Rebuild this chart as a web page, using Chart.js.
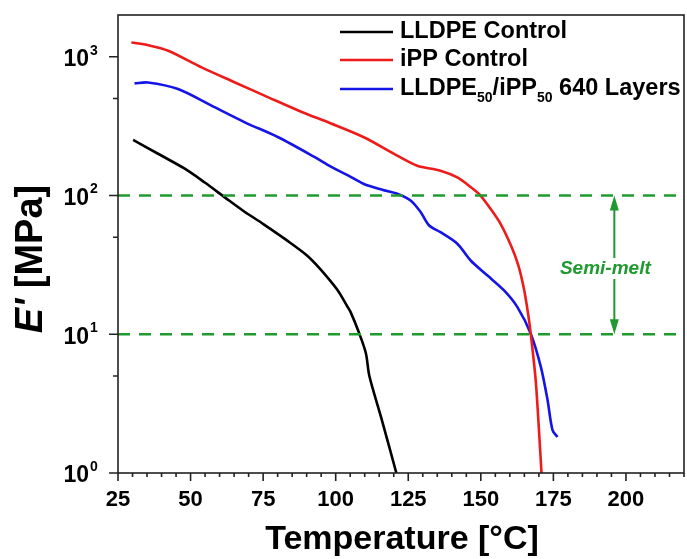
<!DOCTYPE html>
<html>
<head>
<meta charset="utf-8">
<script src="https://cdn.jsdelivr.net/npm/chart.js@4.4.0/dist/chart.umd.min.js"></script>
<style>
  html, body { margin: 0; padding: 0; background: #fff; }
  #wrap { width: 687px; height: 559px; }
</style>
</head>
<body>
<div id="wrap"><canvas id="chart" width="687" height="559"></canvas></div>
<script>
// storage modulus E' [MPa] vs temperature [°C]
var lldpeTemp = [30.2, 38.8, 48.0, 54.9, 61.8, 68.0, 75.2, 83.2, 90.1, 94.7, 100.5, 103.9, 105.1, 108.0, 110.4, 111.6, 115.7, 120.9];
var lldpeMod  = [252, 200, 156, 124, 97, 78, 62, 47.5, 37, 29.5, 21, 16, 14.5, 10.3, 7.3, 5.0, 2.5, 1.0];

var ippTemp = [29.6, 35.5, 42.3, 53.8, 65.3, 76.8, 88.3, 98.2, 109.7, 121.2, 128.1, 136.1, 141.9, 146.5, 149.9, 153.0, 156.9, 160.5, 163.0, 164.9, 166.3, 167.2, 168.9, 170.1, 170.9];
var ippMod  = [1268, 1210, 1105, 838, 653, 510, 400, 332, 263, 194, 164, 151, 135, 115, 100, 82, 62, 43, 31, 21, 14, 10.1, 4.67, 1.93, 1.0];

var blendTemp = [30.7, 35.3, 45.7, 57.2, 68.7, 80.2, 92.8, 98.2, 104.4, 109.7, 116.0, 121.2, 125.8, 129.3, 132.2, 136.1, 141.9, 146.5, 152.2, 158.0, 162.6, 167.2, 170.7, 173.0, 174.7, 176.4];
var blendMod  = [643, 653, 585, 444, 337, 263, 189, 162, 139, 121, 110, 103, 92, 75.8, 60.8, 54.4, 44.9, 34, 26.6, 20.7, 15.7, 10.1, 5.8, 3.35, 2.04, 1.82];

// semi-melt window boundaries
var semiMeltBounds = [100, 10];
var refLineTemp = [25, 220];
var arrowTemp = 196;

var xMajorTicks = [25, 50, 75, 100, 125, 150, 175, 200];
var xMinorStep = 5;
var yMajorTicks = [1, 10, 100, 1000];
var yMajorExp = ["0", "1", "2", "3"];
var yMinorTicks = [5, 50, 500];

var FONT = '"Liberation Sans", Arial, Helvetica, sans-serif';
var GREEN = "#1f9a2e";

function pts(xs, ys) {
  return xs.map(function (x, i) { return { x: x, y: ys[i] }; });
}

function curve(label, xs, ys, color) {
  return {
    label: label,
    data: pts(xs, ys),
    borderColor: color,
    borderWidth: 2.6,
    pointRadius: 0,
    fill: false,
    tension: 0.3,
  };
}

function refLine(v) {
  return {
    label: "ref" + v,
    data: pts(refLineTemp, [v, v]),
    borderColor: GREEN,
    borderWidth: 2.4,
    borderDash: [12, 9],
    pointRadius: 0,
    fill: false,
  };
}

var axisPlugin = {
  id: "dmaAxes",
  afterDraw: function (chart) {
    var ctx = chart.ctx;
    var a = chart.chartArea;
    var xs = chart.scales.x;
    var ys = chart.scales.y;
    ctx.save();

    // frame
    ctx.strokeStyle = "#222";
    ctx.lineWidth = 1.6;
    ctx.strokeRect(a.left, a.top, a.right - a.left, a.bottom - a.top);

    // x ticks
    ctx.beginPath();
    for (var t = 25; t <= 220; t += xMinorStep) {
      var px = xs.getPixelForValue(t);
      var len = xMajorTicks.indexOf(t) >= 0 ? 8 : 4;
      ctx.moveTo(px, a.bottom);
      ctx.lineTo(px, a.bottom + len);
    }
    // y ticks
    yMajorTicks.forEach(function (v) {
      var py = ys.getPixelForValue(v);
      ctx.moveTo(a.left, py);
      ctx.lineTo(a.left - 9, py);
    });
    yMinorTicks.forEach(function (v) {
      var py = ys.getPixelForValue(v);
      ctx.moveTo(a.left, py);
      ctx.lineTo(a.left - 5, py);
    });
    ctx.stroke();

    ctx.fillStyle = "#000";
    ctx.font = "bold 22px " + FONT;
    ctx.textAlign = "center";
    ctx.textBaseline = "middle";
    xMajorTicks.forEach(function (t) {
      ctx.fillText(String(t), xs.getPixelForValue(t), 500);
    });

    yMajorTicks.forEach(function (v, i) {
      var py = ys.getPixelForValue(v);
      ctx.font = "bold 23px " + FONT;
      ctx.textAlign = "right";
      ctx.fillText("10", a.left - 29, py + 3);
      ctx.font = "bold 14px " + FONT;
      ctx.textAlign = "left";
      ctx.fillText(yMajorExp[i], a.left - 28, py - 6);
    });

    // axis titles
    ctx.textAlign = "center";
    ctx.font = "bold 34px " + FONT;
    ctx.fillText("Temperature [\u00B0C]", (a.left + a.right) / 2 + 1, 540);

    ctx.save();
    ctx.translate(32, 259);
    ctx.rotate(-Math.PI / 2);
    ctx.textAlign = "left";
    var f1 = "italic bold 38px " + FONT, f2 = "bold 38px " + FONT;
    ctx.font = f1;
    var w1 = ctx.measureText("E'").width;
    ctx.font = f2;
    var w2 = ctx.measureText(" [MPa]").width;
    var x0 = -(w1 + w2) / 2;
    ctx.font = f1;
    ctx.fillText("E'", x0, 0);
    ctx.font = f2;
    ctx.fillText(" [MPa]", x0 + w1, 0);
    ctx.restore();

    // legend
    var rows = [
      { color: "#000", y: 32, parts: [["LLDPE Control", 0]] },
      { color: "#ee1b1b", y: 60, parts: [["iPP Control", 0]] },
      { color: "#1414e6", y: 89, parts: [["LLDPE", 0], ["50", 1], ["/iPP", 0], ["50", 1], [" 640 Layers", 0]] },
    ];
    ctx.textAlign = "left";
    rows.forEach(function (r) {
      ctx.strokeStyle = r.color;
      ctx.lineWidth = 2.6;
      ctx.beginPath();
      ctx.moveTo(340, r.y);
      ctx.lineTo(393, r.y);
      ctx.stroke();
      var tx = 400;
      r.parts.forEach(function (p) {
        ctx.font = p[1] ? "bold 14px " + FONT : "bold 23.5px " + FONT;
        ctx.fillText(p[0], tx, p[1] ? r.y + 9 : r.y);
        tx += ctx.measureText(p[0]).width;
      });
    });

    // semi-melt arrow
    var ax = xs.getPixelForValue(arrowTemp);
    var yTop = ys.getPixelForValue(semiMeltBounds[0]);
    var yBot = ys.getPixelForValue(semiMeltBounds[1]);
    ctx.strokeStyle = GREEN;
    ctx.fillStyle = GREEN;
    ctx.lineWidth = 2;
    ctx.beginPath();
    ctx.moveTo(ax, yTop + 10);
    ctx.lineTo(ax, 258);
    ctx.moveTo(ax, 279);
    ctx.lineTo(ax, yBot - 10);
    ctx.stroke();
    ctx.beginPath();
    ctx.moveTo(ax, yTop);
    ctx.lineTo(ax - 4.5, yTop + 15);
    ctx.lineTo(ax + 4.5, yTop + 15);
    ctx.closePath();
    ctx.moveTo(ax, yBot);
    ctx.lineTo(ax - 4.5, yBot - 15);
    ctx.lineTo(ax + 4.5, yBot - 15);
    ctx.closePath();
    ctx.fill();
    ctx.font = "italic bold 19px " + FONT;
    ctx.textAlign = "center";
    ctx.fillText("Semi-melt", ax - 9, 269);

    ctx.restore();
  },
};

new Chart(document.getElementById("chart"), {
  type: "line",
  data: {
    datasets: [
      refLine(semiMeltBounds[0]),
      refLine(semiMeltBounds[1]),
      curve("LLDPE Control", lldpeTemp, lldpeMod, "#000"),
      curve("iPP Control", ippTemp, ippMod, "#ee1b1b"),
      curve("LLDPE50/iPP50 640 Layers", blendTemp, blendMod, "#1414e6"),
    ],
  },
  options: {
    responsive: false,
    devicePixelRatio: 1,
    animation: false,
    layout: { padding: { left: 0, top: 15, right: 3, bottom: 0 } },
    plugins: { legend: { display: false }, tooltip: { enabled: false } },
    scales: {
      x: {
        type: "linear",
        min: 25,
        max: 220,
        grid: { display: false, drawTicks: false },
        border: { display: false },
        ticks: { display: false },
        afterFit: function (s) { s.height = 86; },
      },
      y: {
        type: "logarithmic",
        min: 1,
        max: 2000,
        grid: { display: false, drawTicks: false },
        border: { display: false },
        ticks: { display: false },
        afterFit: function (s) { s.width = 118; },
      },
    },
  },
  plugins: [axisPlugin],
});
</script>
</body>
</html>
